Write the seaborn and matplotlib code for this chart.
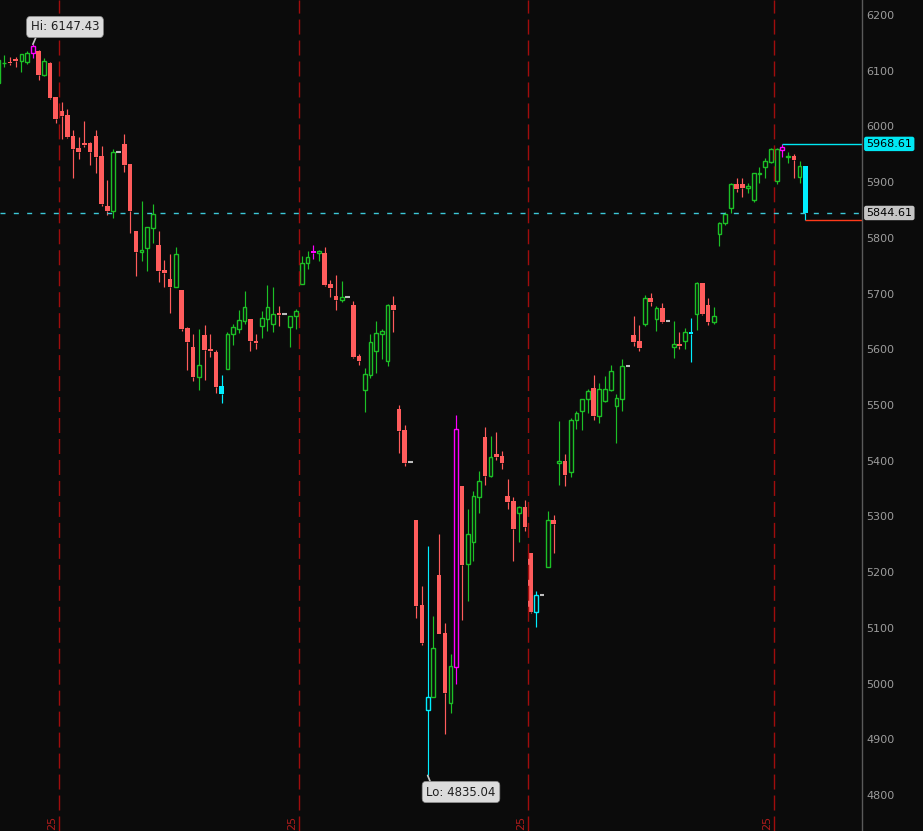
import numpy as np
import pandas as pd
import matplotlib.pyplot as plt
from matplotlib.patches import Rectangle
import seaborn as sns

sns.set_theme(style='dark', rc={'axes.facecolor': '#0b0b0b', 'figure.facecolor': '#0b0b0b'})
plt.rcParams['font.family'] = ['DejaVu Sans']

# OHLC per bar
opens = [
    6077.9, 6113.5, 6115.6, 6120.5, 6118.0, 6116.1, 6131.2, 6135.4, 6092.3, 6113.8,
    6052.2, 6027.7, 6020.5, 5982.8, 5961.2, 5970.2, 5969.7, 5982.8, 5946.9, 5857.1,
    5848.7, 5953.5, 5968.4, 5932.5, 5812.3, 5775.1, 5781.2, 5818.2, 5786.6, 5742.3,
    5726.1, 5711.2, 5706.3, 5638.1, 5603.5, 5550.7, 5625.6, 5600.5, 5595.1, 5534.0,
    5564.0, 5626.8, 5635.8, 5651.2, 5654.3, 5614.8, 5641.5, 5654.8, 5645.8, 5664.5,
    5662.7, 5640.4, 5659.1, 5717.7, 5754.3, 5776.4, 5772.2, 5772.8, 5717.1, 5695.6,
    5688.9, 5693.2, 5679.4, 5587.9, 5527.4, 5554.3, 5597.4, 5627.9, 5579.4, 5679.4,
    5492.7, 5455.1, 5397.1, 5293.5, 5140.9, 4953.0, 4975.3, 5194.8, 5090.1, 4965.6,
    5030.2, 5354.5, 5214.0, 5254.5, 5335.3, 5443.0, 5373.0, 5412.0, 5408.4, 5336.6,
    5327.6, 5305.5, 5316.3, 5233.7, 5128.9, 5158.3, 5208.6, 5293.5, 5395.3, 5399.4,
    5380.2, 5472.4, 5489.7, 5510.2, 5530.4, 5480.7, 5507.6, 5526.9, 5498.6, 5511.2,
    5569.4, 5625.6, 5614.8, 5645.8, 5692.0, 5654.8, 5674.1, 5650.2, 5604.6, 5609.4,
    5614.3, 5631.0, 5662.7, 5718.9, 5679.4, 5649.4, 5806.3, 5826.1, 5854.1, 5896.1,
    5896.6, 5890.0, 5867.9, 5914.6, 5927.7, 5936.6, 5902.0, 5958.2, 5944.5, 5946.9,
    5909.7, 5928.9,
]
highs = [
    6121.0, 6128.2, 6124.6, 6125.1, 6130.0, 6135.4, 6147.43, 6137.2, 6122.3, 6115.6,
    6052.5, 6044.4, 6031.2, 5993.6, 5981.5, 6009.7, 5971.5, 5993.6, 5964.8, 5903.8,
    5959.4, 5953.5, 5986.4, 5932.5, 5812.3, 5866.1, 5819.4, 5860.7, 5812.3, 5760.2,
    5771.0, 5783.5, 5706.3, 5640.0, 5627.4, 5635.8, 5643.5, 5627.4, 5598.7, 5553.8,
    5630.9, 5645.3, 5670.5, 5704.6, 5654.3, 5626.8, 5668.6, 5715.3, 5711.7, 5677.6,
    5662.7, 5659.1, 5672.2, 5767.4, 5776.4, 5787.1, 5778.2, 5783.5, 5724.3, 5733.3,
    5722.5, 5693.2, 5686.6, 5591.5, 5565.8, 5626.8, 5650.7, 5636.3, 5681.2, 5695.6,
    5499.9, 5463.5, 5397.1, 5293.5, 5175.0, 5246.8, 5121.2, 5268.4, 5108.6, 5053.0,
    5482.0, 5354.5, 5313.2, 5346.1, 5381.4, 5461.0, 5444.3, 5451.5, 5416.8, 5367.1,
    5334.2, 5319.2, 5329.4, 5233.7, 5166.1, 5158.3, 5309.7, 5302.5, 5471.2, 5412.0,
    5476.0, 5489.1, 5510.2, 5529.2, 5553.2, 5538.9, 5552.0, 5571.7, 5519.1, 5581.9,
    5569.4, 5659.7, 5643.5, 5697.4, 5701.0, 5677.6, 5683.0, 5650.2, 5650.7, 5631.0,
    5637.6, 5656.1, 5720.7, 5718.9, 5692.0, 5675.8, 5828.9, 5846.9, 5899.0, 5906.9,
    5906.9, 5897.9, 5916.9, 5927.7, 5942.7, 5960.7, 5960.7, 5968.61, 5954.6, 5950.5,
    5937.9, 5929.4,
]
lows = [
    6076.0, 6106.6, 6110.2, 6107.2, 6098.2, 6111.5, 6122.3, 6083.3, 6090.5, 6049.2,
    6006.6, 5976.9, 5979.2, 5907.9, 5942.0, 5963.6, 5931.3, 5916.9, 5857.7, 5841.5,
    5836.1, 5953.5, 5918.7, 5809.2, 5732.0, 5759.0, 5741.0, 5790.2, 5721.3, 5711.2,
    5665.6, 5711.2, 5633.3, 5562.8, 5543.5, 5526.9, 5544.8, 5586.6, 5520.9, 5504.1,
    5564.0, 5607.6, 5629.7, 5645.8, 5597.4, 5601.0, 5620.7, 5633.3, 5631.5, 5641.7,
    5662.7, 5603.5, 5636.9, 5717.7, 5743.5, 5762.5, 5759.0, 5714.1, 5694.3, 5670.5,
    5685.3, 5693.2, 5584.8, 5572.3, 5487.9, 5548.4, 5557.9, 5582.5, 5570.5, 5631.0,
    5413.8, 5391.0, 5397.1, 5118.1, 5069.1, 4835.04, 4975.3, 5089.4, 4909.4, 4947.6,
    4999.1, 5114.0, 5148.6, 5220.4, 5306.6, 5356.3, 5371.2, 5401.2, 5385.0, 5313.3,
    5220.4, 5254.5, 5274.3, 5126.0, 5102.0, 5158.3, 5208.6, 5234.8, 5356.3, 5355.1,
    5371.2, 5456.8, 5455.1, 5485.0, 5473.0, 5468.2, 5505.3, 5525.6, 5431.7, 5489.1,
    5569.4, 5605.8, 5597.4, 5641.7, 5677.6, 5632.8, 5647.6, 5650.2, 5584.3, 5600.5,
    5600.5, 5577.1, 5634.5, 5661.5, 5644.1, 5645.3, 5785.9, 5823.0, 5844.0, 5882.8,
    5873.8, 5881.0, 5864.9, 5897.9, 5906.9, 5933.8, 5896.6, 5944.5, 5933.8, 5906.9,
    5898.9, 5832.0,
]
closes = [
    6119.2, 6114.5, 6113.3, 6118.0, 6129.4, 6131.2, 6143.8, 6092.8, 6116.9, 6051.0,
    6012.8, 6019.2, 5980.5, 5960.0, 5954.6, 5967.2, 5954.6, 5945.6, 5861.3, 5848.7,
    5953.5, 5953.5, 5931.3, 5848.7, 5775.1, 5778.2, 5818.9, 5842.2, 5741.0, 5737.4,
    5712.3, 5770.4, 5635.8, 5613.6, 5550.7, 5571.2, 5598.7, 5596.9, 5532.8, 5519.7,
    5626.8, 5639.4, 5652.0, 5675.3, 5615.3, 5611.7, 5655.6, 5675.3, 5662.7, 5662.0,
    5662.7, 5659.1, 5668.1, 5754.3, 5766.1, 5772.2, 5775.8, 5715.3, 5710.5, 5688.9,
    5693.2, 5693.2, 5586.6, 5579.4, 5555.0, 5612.5, 5628.6, 5632.8, 5678.9, 5670.5,
    5453.8, 5396.4, 5397.1, 5139.7, 5072.2, 4975.3, 5063.2, 5089.4, 4982.4, 5031.4,
    5456.3, 5212.7, 5268.4, 5336.6, 5362.9, 5372.5, 5406.0, 5407.1, 5396.4, 5326.4,
    5276.8, 5316.3, 5281.5, 5128.9, 5158.3, 5158.3, 5293.5, 5286.8, 5399.4, 5374.8,
    5472.4, 5485.0, 5510.2, 5524.5, 5480.7, 5528.6, 5528.6, 5561.0, 5511.9, 5569.4,
    5569.4, 5613.0, 5602.8, 5691.4, 5684.8, 5673.5, 5648.9, 5650.2, 5608.9, 5605.8,
    5630.4, 5627.9, 5718.4, 5662.7, 5649.4, 5659.1, 5826.1, 5843.3, 5896.6, 5887.1,
    5890.0, 5892.5, 5915.8, 5915.8, 5937.9, 5958.9, 5958.9, 5962.5, 5946.3, 5940.2,
    5928.9, 5844.61,
]

# highlighted bars
magenta_bars = [6, 55, 80, 137]
cyan_bars = [39, 75, 94, 121, 141]

# month separators (between bars) and the visible part of their labels
month_pos = [10.5, 52.5, 92.5, 135.5]
month_labels = ['25', '25', '25', '25']

price_ticks = list(range(4800, 6201, 100))
hi_value, hi_bar = 6147.43, 6
lo_value, lo_bar = 4835.04, 75
last_high = 5968.61
last_close = 5844.61
last_low = 5832.0

df = pd.DataFrame({'open': opens, 'high': highs, 'low': lows, 'close': closes})

UP = '#1cc026'
DOWN = '#ff5c5c'
FLAT = '#bdbdbd'

fig = plt.figure(figsize=(9.23, 8.31), dpi=100)
ax = fig.add_axes([0, 0, 862 / 923, 1])
ax.set_facecolor('#0b0b0b')

for i, r in df.iterrows():
    if r['high'] == r['low']:
        ax.hlines(r['close'], i - 0.4, i + 0.4, color=FLAT, lw=1.5)
        continue
    up = r['close'] >= r['open']
    if i in magenta_bars:
        c = '#ff00ff'
    elif i in cyan_bars:
        c = '#00eeff'
    else:
        c = UP if up else DOWN
    top = max(r['open'], r['close'])
    bot = min(r['open'], r['close'])
    ax.vlines(i, top, r['high'], color=c, lw=0.85)
    ax.vlines(i, r['low'], bot, color=c, lw=0.85)
    if up:
        ax.add_patch(Rectangle((i - 0.33, bot), 0.66, max(top - bot, 0.6),
                               fill=False, ec=c, lw=1.0))
    else:
        ax.add_patch(Rectangle((i - 0.4, bot), 0.8, max(top - bot, 1.5),
                               fc=c, ec='none', lw=0))

xmax = 150.92
ax.set_xlim(0.25, xmax)
ax.set_ylim(4735.3, 6226.9)

# month separators
for p in month_pos:
    ax.axvline(p, color='#a00d0d', lw=1.0, ls=(0, (10.8, 4.3)))
for p, lab in zip(month_pos, month_labels):
    xpix = (p * 5.721 - 1.42) - 7
    fig.text(xpix / 923, 1 / 831, lab, rotation=90, ha='center', va='bottom',
             color='#b01c1c', fontsize=8)

# last price / session lines
ax.axhline(last_close, color='#3cc8d8', lw=1.0, ls=(0, (3.6, 6)))
ax.hlines(last_high, 137, xmax, color='#00e8f4', lw=1.0)
ax.hlines(last_low, 141, xmax, color='#ff3a1a', lw=1.0)

# hi / lo bubbles
ax.annotate(f'Hi: {hi_value:.2f}', xy=(hi_bar, hi_value), xycoords='data',
            xytext=(65, 804), textcoords='figure pixels', ha='center', va='center',
            fontsize=8.5, color='#1e1e1e',
            bbox=dict(boxstyle='round,pad=0.35', fc='#dcdcdc', ec='#8a8a8a', lw=0.5),
            arrowprops=dict(arrowstyle='-', color='#c8c8c8', lw=1.2,
                            shrinkA=0, shrinkB=0, relpos=(0.1, 0.0)))
ax.annotate(f'Lo: {lo_value:.2f}', xy=(lo_bar, lo_value), xycoords='data',
            xytext=(461, 39), textcoords='figure pixels', ha='center', va='center',
            fontsize=8.5, color='#1e1e1e',
            bbox=dict(boxstyle='round,pad=0.35', fc='#dcdcdc', ec='#8a8a8a', lw=0.5),
            arrowprops=dict(arrowstyle='-', color='#c8c8c8', lw=1.2,
                            shrinkA=0, shrinkB=0, relpos=(0.08, 1.0)))

# price axis on the right
sns.despine(ax=ax, left=True, bottom=True, top=True, right=False)
ax.spines['right'].set_color('#5a5a5a')
ax.spines['right'].set_linewidth(1.0)
ax.yaxis.tick_right()
ax.set_yticks(price_ticks)
ax.set_yticklabels([str(t) for t in price_ticks])
ax.tick_params(axis='y', length=0, pad=3, labelsize=8, labelcolor='#9c9c9c')
ax.set_xticks([])
ax.grid(False)

ytr = ax.get_yaxis_transform()
ax.text(1.005, last_high, f'{last_high:.2f}', transform=ytr, ha='left', va='center',
        fontsize=8, color='black', clip_on=False,
        bbox=dict(boxstyle='round,pad=0.2', fc='#00e8f4', ec='none'))
ax.text(1.005, last_close, f'{last_close:.2f}', transform=ytr, ha='left', va='center',
        fontsize=8, color='black', clip_on=False,
        bbox=dict(boxstyle='round,pad=0.2', fc='#c4c4c4', ec='none'))

fig.savefig('out.png', dpi=100, facecolor=fig.get_facecolor())
